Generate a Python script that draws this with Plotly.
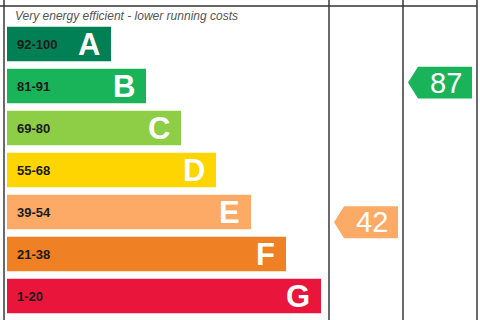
import plotly.graph_objects as go

# ---- data ----
bands = ["A", "B", "C", "D", "E", "F", "G"]
ranges = ["92-100", "81-91", "69-80", "55-68", "39-54", "21-38", "1-20"]
range_lo = [92, 81, 69, 55, 39, 21, 1]
range_hi = [100, 91, 80, 68, 54, 38, 20]
colors = ["#008054", "#19b459", "#8dce46", "#ffd500", "#fcaa65", "#ef8023", "#e9153b"]
current_score = 42
potential_score = 87
header_text = "Very energy efficient - lower running costs"

FONT = "Arial, Liberation Sans, sans-serif"

# layout geometry (pixel-like x units)
bar_left = 7
bar_len0 = 104
bar_step = 35
col_lines = [4, 329, 403, 477]
lengths = [bar_len0 + bar_step * i for i in range(len(bands))]
ypos = list(range(len(bands)))

fig = go.Figure()
fig.add_trace(go.Bar(
    y=ypos, x=lengths, base=bar_left, orientation="h",
    marker=dict(color=colors, line=dict(width=0)),
    hoverinfo="skip", showlegend=False,
))

for i, b in enumerate(bands):
    fig.add_annotation(x=bar_left + lengths[i] - 9, y=i, text=b, showarrow=False,
                       xanchor="right", yanchor="middle",
                       font=dict(family=FONT, size=31, color="white", weight="bold"))
    fig.add_annotation(x=15, y=i, text=ranges[i], showarrow=False,
                       xanchor="left", yanchor="middle",
                       font=dict(family=FONT, size=13, color="#1a1a1a", weight="bold"))


def band_of(score):
    for i in range(len(bands)):
        if range_lo[i] <= score <= range_hi[i]:
            return i
    return len(bands) - 1


def add_arrow(score, col_left):
    i = band_of(score)
    f = (score - range_lo[i]) / (range_hi[i] - range_lo[i])
    yc = i + 0.405 - f * 0.81
    h = 0.38
    tip = col_left + 5
    bl = col_left + 15
    br = col_left + 69
    fig.add_trace(go.Scatter(
        x=[tip, bl, br, br, bl, tip], y=[yc, yc - h, yc - h, yc + h, yc + h, yc],
        fill="toself", fillcolor=colors[i], mode="lines",
        line=dict(width=0, color=colors[i]), hoverinfo="skip", showlegend=False,
    ))
    fig.add_annotation(x=(bl + br) / 2 + 1, y=yc, text=str(score), showarrow=False,
                       xanchor="center", yanchor="middle",
                       font=dict(family=FONT, size=29, color="white"))


add_arrow(current_score, col_lines[1])
add_arrow(potential_score, col_lines[2])

# header text
fig.add_annotation(x=13, y=-0.66, text="<i>" + header_text + "</i>", showarrow=False,
                   xanchor="left", yanchor="middle",
                   font=dict(family=FONT, size=12, color="#555555"))

# frame lines
for xl in col_lines:
    fig.add_shape(type="line", xref="x", yref="paper", x0=xl, x1=xl, y0=0, y1=1,
                  line=dict(color="#6a6a6a", width=2))
fig.add_shape(type="line", xref="paper", yref="paper", x0=0, x1=col_lines[-1] / 480,
              y0=1 - 6 / 320, y1=1 - 6 / 320, line=dict(color="#333333", width=1.5))

fig.update_layout(
    width=480, height=320, margin=dict(l=0, r=0, t=0, b=0),
    paper_bgcolor="white", plot_bgcolor="white",
    bargap=0.18,
    xaxis=dict(range=[0, 480], visible=False, fixedrange=True),
    yaxis=dict(range=[(320 - 44) / 42, -44 / 42], visible=False, fixedrange=True),
)

fig.write_html("out.html", config={"displayModeBar": False})
